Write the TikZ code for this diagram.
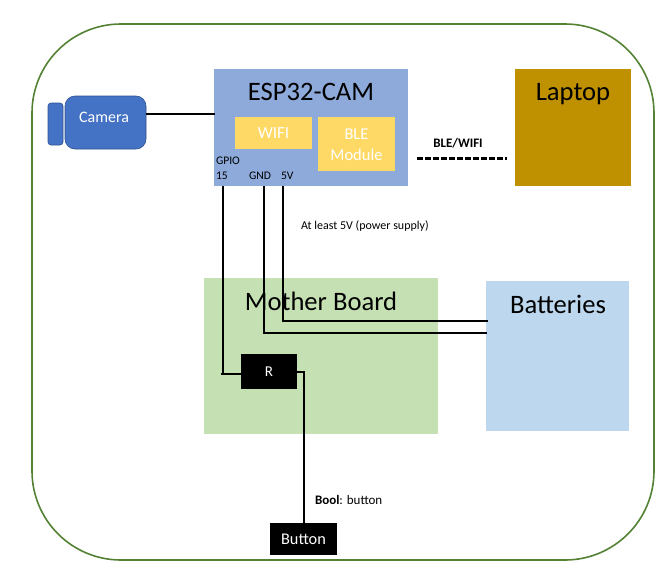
\documentclass[tikz,border=0pt]{standalone}
\usepackage{fontspec}
\setmainfont{Carlito}
\definecolor{frameg}{HTML}{548235}
\definecolor{espb}{HTML}{8EAADB}
\definecolor{yel}{HTML}{FFD966}
\definecolor{gold}{HTML}{BF9000}
\definecolor{mbg}{HTML}{C5E0B3}
\definecolor{batb}{HTML}{BDD7EE}
\definecolor{camb}{HTML}{4472C4}
\definecolor{camd}{HTML}{2F528F}
\tikzset{
  sz/.style 2 args={minimum width=#1pt,minimum height=#2pt},
  box/.style={draw=none,inner sep=0pt,outer sep=0pt,anchor=north west},
  camshape/.style={box,fill=camb,draw=camd,line width=0.6pt},
  wire/.style={draw=black,line width=2.1pt},
  lbl/.style={inner sep=0pt,outer sep=0pt,text=black},
  bigt/.style={lbl,font=\fontsize{26.6}{30}\selectfont},
  pin/.style={lbl,anchor=west,font=\fontsize{11.6}{13}\selectfont},
}
\begin{document}
\begin{tikzpicture}[x=1pt,y=-1pt]
\useasboundingbox (0,0) rectangle (670,571);
% frame
\node[box,draw=frameg,line width=1.6pt,rounded corners=89pt,sz={622}{536}] (frame) at (32,24) {};
% camera
\node[camshape,rounded corners=3pt,sz={15}{42}] (lens) at (48,103) {};
\node[camshape,rounded corners=10pt,sz={81}{53}] (cam) at (65,96) {};
\node[lbl,text=white,font=\fontsize{16}{18}\selectfont] (camt) at (104,117) {Camera};
% ESP
\node[box,fill=espb,sz={194}{117}] (esp) at (214,69) {};
\node[bigt] (espt) at (311,92) {ESP32-CAM};
\node[box,fill=yel,sz={77}{32},text=white,font=\fontsize{17}{19}\selectfont] (wifi) at (235,117) {\raisebox{-1pt}{WIFI}};
\node[box,fill=yel,sz={77}{54},text=white,font=\fontsize{16.5}{20}\selectfont,align=center] (ble) at (318,117) {\rule{0pt}{13pt}BLE\\[1pt]Module};
\node[pin] (gp) at (216,161) {GPIO};
\node[pin] (g15) at (216,176) {15};
\node[pin] (gnd) at (249,176) {GND};
\node[pin] (fv) at (281,176) {5V};
% Laptop
\node[box,fill=gold,sz={116}{117}] (lap) at (515,69) {};
\node[bigt] (lapt) at (573,94) {Laptop};
% Mother board
\node[box,fill=mbg,sz={234}{156}] (mb) at (204,278) {};
\node[bigt] (mbt) at (321,301) {Mother Board};
% Batteries
\node[box,fill=batb,sz={143}{150}] (bat) at (486,281) {};
\node[bigt] (batt) at (558,304) {Batteries};
% R and button
\node[box,fill=black,text=white,sz={56}{35},font=\fontsize{15}{17}\selectfont] (r) at (241,354) {R};
\node[box,fill=black,text=white,sz={67}{32},font=\fontsize{16.3}{18}\selectfont] (btn) at (270,523) {Button};
% labels
\node[lbl,font=\bfseries\fontsize{13}{15}\selectfont] (blw) at (458,143) {BLE/WIFI};
\node[lbl,font=\fontsize{12}{14}\selectfont,anchor=west] (sup) at (301,226) {At least 5V (power supply)};
\node[lbl,font=\fontsize{13}{15}\selectfont,anchor=west] (bl) at (315,500) {\textbf{Bool}: button};
% anchors for wires
\coordinate (dashs) at (417,158.5);
\coordinate (dashe) at (507,158.5);
\coordinate (gpt) at (223,186);
\coordinate (gnt) at (264,186);
\coordinate (fvt) at (283,186);
\coordinate (rin) at (221,374);
\coordinate (gpb) at (223,374);
\coordinate (rinr) at (241,374);
\coordinate (gndb) at (487,333);
\coordinate (fvb) at (488,321);
\coordinate (rout) at (297,372);
\coordinate (routr) at (305,372);
\coordinate (bst) at (304,372);
\coordinate (bin) at (304,523);
\coordinate (camr) at (146,114);
\coordinate (espl) at (215,114);
% wires
\draw[wire] (camr) -- (espl);
\draw[wire] (gpt) -- (gpb);
\draw[wire] (rin) -- (rinr);
\draw[wire] (gnt) |- (gndb);
\draw[wire] (fvt) |- (fvb);
\draw[wire] (rout) -- (routr);
\draw[wire] (bst) -- (bin);
\draw[wire,line width=2.6pt,dash pattern=on 5.5pt off 2.5pt] (dashs) -- (dashe);
\end{tikzpicture}
\end{document}
